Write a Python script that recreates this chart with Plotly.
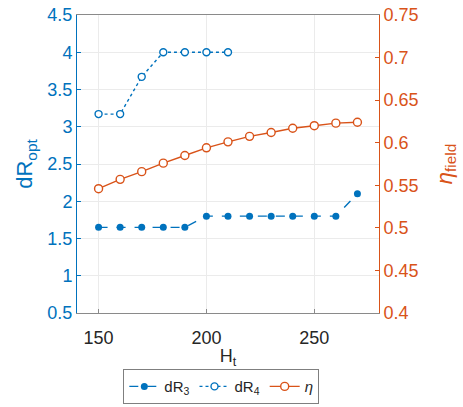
import plotly.graph_objects as go

# Tower height values (x axis)
h_t = [150, 160, 170, 180, 190, 200, 210, 220, 230, 240, 250, 260, 270]
h_t_dr4 = [150, 160, 170, 180, 190, 200, 210]

# Optimal radial spacing and field efficiency
dr3 = [1.65, 1.65, 1.65, 1.65, 1.65, 1.8, 1.8, 1.8, 1.8, 1.8, 1.8, 1.8, 2.1]
dr4 = [3.17, 3.17, 3.67, 4.0, 4.0, 4.0, 4.0]
eta = [0.546, 0.557, 0.566, 0.576, 0.585, 0.594, 0.601, 0.6075, 0.612, 0.617, 0.620, 0.623, 0.624]

left_ticks = [0.5, 1, 1.5, 2, 2.5, 3, 3.5, 4, 4.5]
left_labels = ["0.5", "1", "1.5", "2", "2.5", "3", "3.5", "4", "4.5"]
right_ticks = [0.4, 0.45, 0.5, 0.55, 0.6, 0.65, 0.7, 0.75]
right_labels = ["0.4", "0.45", "0.5", "0.55", "0.6", "0.65", "0.7", "0.75"]
x_ticks = [150, 200, 250]

BLUE = "#0072BD"
ORANGE = "#D95319"
FONT = "Liberation Sans"

fig = go.Figure()
fig.add_trace(go.Scatter(
    x=h_t, y=dr3, name="dR<sub>3</sub>", mode="lines+markers",
    line=dict(color=BLUE, width=1.4, dash="dash"),
    marker=dict(color=BLUE, size=7, symbol="circle"),
    yaxis="y"))
fig.add_trace(go.Scatter(
    x=h_t_dr4, y=dr4, name="dR<sub>4</sub>", mode="lines+markers",
    line=dict(color=BLUE, width=1.4, dash="dot"),
    marker=dict(color="white", size=7, symbol="circle",
                line=dict(color=BLUE, width=1.4)),
    yaxis="y"))
fig.add_trace(go.Scatter(
    x=h_t, y=eta, name="<i>η</i>", mode="lines+markers",
    line=dict(color=ORANGE, width=1.4),
    marker=dict(color="white", size=8, symbol="circle",
                line=dict(color=ORANGE, width=1.4)),
    yaxis="y2"))

fig.update_layout(
    width=463, height=407,
    margin=dict(l=77, r=84, t=15, b=94, autoexpand=False),
    paper_bgcolor="white", plot_bgcolor="white",
    font=dict(family=FONT, size=18, color="#262626"),
    showlegend=True,
    legend=dict(
        orientation="h", x=0.478, xanchor="center", xref="container",
        y=0.093, yanchor="top", yref="container",
        bordercolor="#7f7f7f", borderwidth=1, bgcolor="white",
        font=dict(family=FONT, size=15, color="#262626"),
        itemwidth=30, tracegroupgap=0,
    ),
    xaxis=dict(
        range=[140, 280], tickvals=x_ticks, ticktext=[str(v) for v in x_ticks],
        showgrid=True, gridcolor="#ebebeb", gridwidth=1,
        showline=True, linecolor="#8a8a8a", linewidth=1, mirror=True,
        ticks="inside", ticklen=4, tickcolor="#8a8a8a",
        ticklabelstandoff=8, automargin=False,
        zeroline=False,
        title=dict(text="H<sub>t</sub>", font=dict(family=FONT, size=18, color="#262626"), standoff=4),
        tickfont=dict(family=FONT, size=18, color="#262626"),
    ),
    yaxis=dict(
        range=[0.5, 4.5], tickvals=left_ticks, ticktext=left_labels,
        showgrid=True, gridcolor="#ebebeb", gridwidth=1,
        showline=True, linecolor=BLUE, linewidth=1,
        ticks="inside", ticklen=4, tickcolor=BLUE,
        zeroline=False, automargin=False,
        title=dict(text="dR<sub>opt</sub>", font=dict(family=FONT, size=22, color=BLUE), standoff=8),
        tickfont=dict(family=FONT, size=18, color=BLUE),
    ),
    yaxis2=dict(
        range=[0.4, 0.75], tickvals=right_ticks, ticktext=right_labels,
        overlaying="y", side="right",
        showgrid=False,
        showline=True, linecolor=ORANGE, linewidth=1,
        ticks="inside", ticklen=4, tickcolor=ORANGE,
        zeroline=False, automargin=False,
        title=dict(text="<i>η</i><sub>field</sub>", font=dict(family=FONT, size=22, color=ORANGE), standoff=18),
        tickfont=dict(family=FONT, size=18, color=ORANGE),
    ),
)

fig.write_html("out.html")
